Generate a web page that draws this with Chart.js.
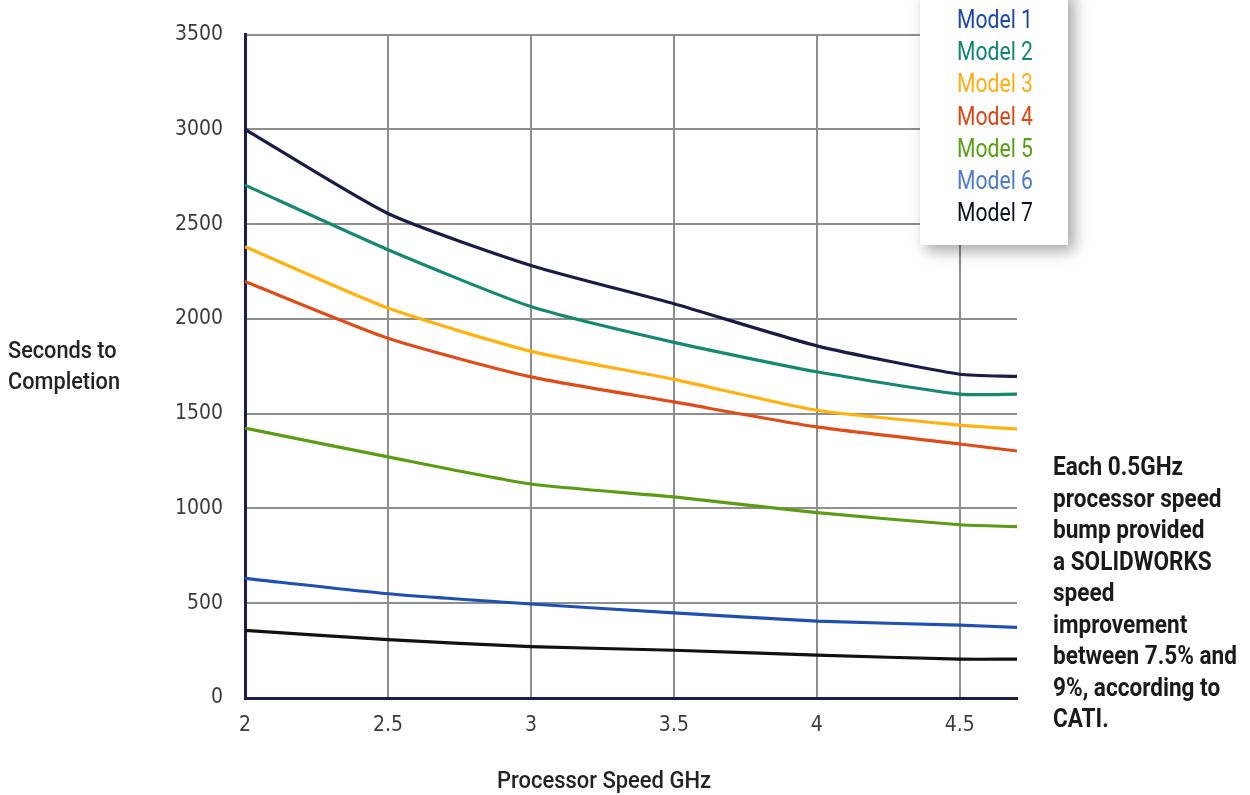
<!DOCTYPE html>
<html>
<head>
<meta charset="utf-8">
<script src="https://cdn.jsdelivr.net/npm/chart.js@4.4.1/dist/chart.umd.min.js"></script>
<style>
  body { margin: 0; background: #fff; }
  #wrap { position: relative; width: 1250px; height: 795px; overflow: hidden; font-family: Roboto, sans-serif; }
  #chart { position: absolute; left: 0; top: 0; }
  .txt { position: absolute; display: inline-block; white-space: nowrap; transform-origin: 0 0; }
  .ytitle { left: 8px; top: 335px; font-size: 24px; line-height: 31px; font-weight: 500; color: #232323; }
  .xtitle { left: 497px; top: 765px; font-size: 24px; line-height: 30px; font-weight: 500; color: #232323; }
  .note { left: 1053px; top: 451px; font-size: 25px; line-height: 31.5px; font-weight: 700; color: #1a1a1a; }
  #legend { position: absolute; left: 920px; top: -10px; width: 148px; height: 255px; background: #fff;
            box-shadow: 6px 6px 14px rgba(0,0,0,0.35); }
  #legend .txt { left: 37px; font-size: 26px; line-height: 32px; }
</style>
</head>
<body>
<div id="wrap">
  <canvas id="chart" width="1250" height="795"></canvas>
  <div class="txt ytitle" data-w="112">Seconds to<br>Completion</div>
  <div class="txt xtitle" data-w="214">Processor Speed GHz</div>
  <div class="txt note" data-w="184">Each 0.5GHz<br>processor speed<br>bump provided<br>a SOLIDWORKS<br>speed<br>improvement<br>between 7.5% and<br>9%, according to<br>CATI.</div>
  <div id="legend"></div>
</div>
<script>
// processor speed (GHz) for every point
var speeds = [2, 2.5, 3, 3.5, 4, 4.5, 4.7];
var xTicks = [2, 2.5, 3, 3.5, 4, 4.5];

var labels = ['Model 1', 'Model 2', 'Model 3', 'Model 4', 'Model 5', 'Model 6', 'Model 7'];

// seconds to completion
var model1 = [631, 550, 496, 449, 406, 384, 373];
var model2 = [2706, 2365, 2065, 1876, 1721, 1603, 1603];
var model3 = [2381, 2057, 1829, 1681, 1518, 1440, 1419];
var model4 = [2197, 1898, 1694, 1562, 1430, 1340, 1303];
var model5 = [1424, 1272, 1129, 1061, 978, 914, 904];
var model6 = [3000, 2556, 2282, 2080, 1858, 1708, 1697];
var model7 = [357, 308, 271, 252, 226, 205, 205];

var lineColors = ['#1f4fb2', '#15896f', '#ffb20f', '#df4c18', '#5b9c15', '#1b1c46', '#111111'];
var legendColors = ['#1a48a6', '#118573', '#ffae12', '#dd4514', '#57a012', '#4d7cc6', '#0d1020'];

var series = [model1, model2, model3, model4, model5, model6, model7];

var datasets = series.map(function (vals, i) {
    return {
        label: labels[i],
        data: vals.map(function (v, j) { return { x: speeds[j], y: v }; }),
        borderColor: lineColors[i],
        borderWidth: 3.2,
        pointRadius: 0,
        tension: 0.2,
        fill: false
    };
});

// legend box
var leg = document.getElementById('legend');
labels.forEach(function (l, i) {
    var d = document.createElement('div');
    d.className = 'txt';
    d.setAttribute('data-w', '76');
    d.textContent = l;
    d.style.color = legendColors[i];
    d.style.top = (13 + i * 32.2) + 'px';
    leg.appendChild(d);
});

// squeeze the text blocks to the condensed width of the original
document.querySelectorAll('.txt[data-w]').forEach(function (el) {
    var w = el.getBoundingClientRect().width;
    el.style.transform = 'scaleX(' + (parseFloat(el.getAttribute('data-w')) / w) + ')';
});

var fontFam = "'DejaVu Sans Condensed', 'DejaVu Sans', sans-serif";

new Chart(document.getElementById('chart'), {
    type: 'line',
    data: { datasets: datasets },
    options: {
        responsive: false,
        devicePixelRatio: 1,
        animation: false,
        layout: { padding: { left: 0, right: 233, top: 31, bottom: 0 } },
        plugins: { legend: { display: false }, tooltip: { enabled: false } },
        scales: {
            x: {
                type: 'linear',
                min: 2,
                max: 4.7,
                afterBuildTicks: function (s) { s.ticks = xTicks.map(function (v) { return { value: v }; }); },
                afterFit: function (s) { s.height = 97; },
                grid: { color: '#8e8e8e', lineWidth: 2, drawTicks: false },
                border: { color: '#1c1c4e', width: 3 },
                ticks: {
                    padding: 15,
                    color: '#3c3c3c',
                    font: { family: fontFam, size: 21 },
                    callback: function (v) { return String(v); }
                }
            },
            y: {
                min: 0,
                max: 3500,
                afterFit: function (s) { s.width = 245; },
                grid: { color: '#8e8e8e', lineWidth: 2, drawTicks: false },
                border: { color: '#1c1c4e', width: 3 },
                ticks: {
                    stepSize: 500,
                    padding: 22,
                    color: '#3c3c3c',
                    font: { family: fontFam, size: 21 },
                    callback: function (v) { return String(v); }
                }
            }
        }
    }
});
</script>
</body>
</html>
